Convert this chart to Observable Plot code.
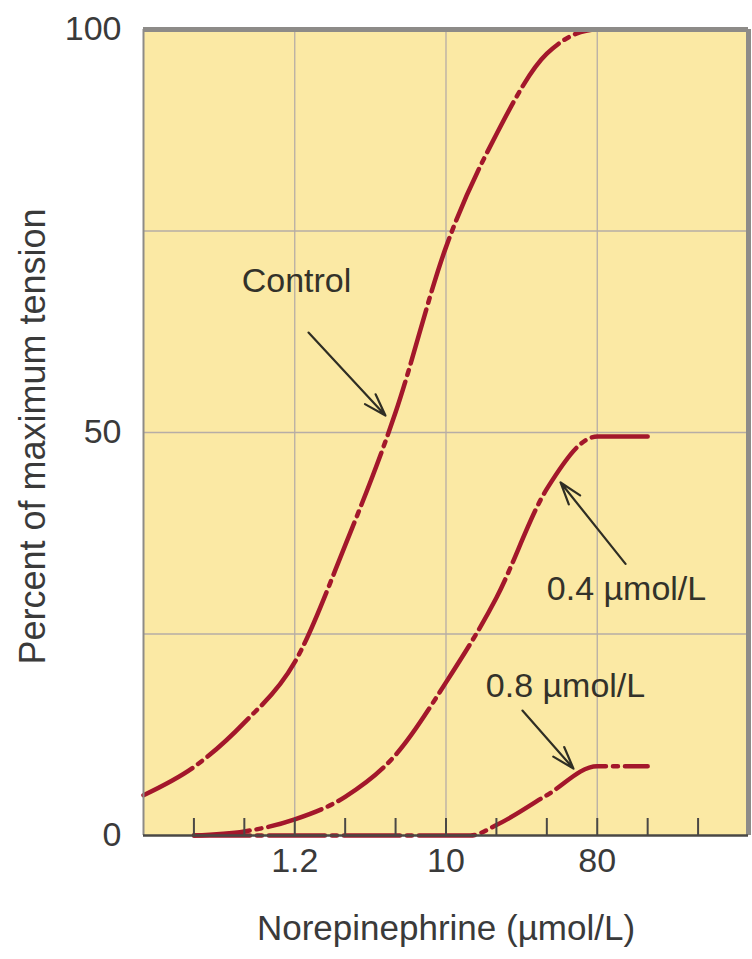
<!DOCTYPE html>
<html>
<head>
<meta charset="utf-8">
<script src="https://cdn.jsdelivr.net/npm/d3@7"></script>
<script src="https://cdn.jsdelivr.net/npm/@observablehq/plot@0.6"></script>
<style>
  html, body { margin: 0; padding: 0; background: #ffffff; }
  #chart svg { display: block; }
</style>
</head>
<body>
<div id="chart"></div>
<script>
// ---- data ----
const concentrations = [0.15625, 0.3125, 0.625, 1.25, 2.5, 5, 10, 20, 40, 80, 160];
const controlValues  = [5, 8.5, 14, 21.5, 36, 52.5, 73, 87, 97, 100, 100];
const conc04 = [0.3125, 0.625, 1.25, 2.5, 5, 10, 20, 40, 80, 160];
const values04 = [0, 0.5, 2, 4.8, 10, 19, 29.5, 43, 49.5, 49.5];
const conc08 = [0.3125, 0.625, 1.25, 2.5, 5, 10, 14, 20, 40, 80, 160];
const values08 = [0, 0, 0, 0, 0, 0, 0, 1.3, 5, 8.6, 8.6];

const xDomain = [0.15625, 640];
const xTickValues = [0.3125, 0.625, 1.25, 2.5, 5, 10, 20, 40, 80, 160, 320];
const xLabelValues = [1.25, 10, 80];
const xLabelTexts = ["1.2", "10", "80"];
const yTickValues = [0, 50, 100];
const yGridValues = [25, 50, 75];

const annotationTexts = ["Control", "0.4 µmol/L", "0.8 µmol/L"];
const annotationX = [1.28, 119.6, 51.7];
const annotationY = [68.8, 30.6, 18.5];
const arrowX1 = [1.51, 118, 28.6];
const arrowY1 = [62.4, 33.7, 15.5];
const arrowX2 = [4.35, 48.3, 57.7];
const arrowY2 = [52.1, 43.8, 8.3];

const xTitle = "Norepinephrine (µmol/L)";
const yTitle = "Percent of maximum tension";

// ---- build tables ----
const rows = [];
concentrations.forEach((c, i) => rows.push({series: "Control", x: c, y: controlValues[i]}));
conc04.forEach((c, i) => rows.push({series: "0.4", x: c, y: values04[i]}));
conc08.forEach((c, i) => rows.push({series: "0.8", x: c, y: values08[i]}));

const notes = annotationTexts.map((t, i) => ({t, x: annotationX[i], y: annotationY[i]}));
const arrows = annotationTexts.map((t, i) => ({x1: arrowX1[i], y1: arrowY1[i], x2: arrowX2[i], y2: arrowY2[i]}));
const xLabels = xLabelValues.map((v, i) => ({x: v, t: xLabelTexts[i]}));

const font = "'Liberation Sans', Arial, Helvetica, sans-serif";
const bg = "#fbe9a4";
const grid = "#b6ada6";
const red = "#a3172b";
const border = "#8d8b88";
const ink = "#33322a";

const chart = Plot.plot({
  width: 752,
  height: 959,
  marginLeft: 143,
  marginRight: 4,
  marginTop: 29,
  marginBottom: 124,
  x: {type: "log", domain: xDomain},
  y: {domain: [0, 100]},
  style: {fontFamily: font, fontSize: "34px", background: "#ffffff", color: ink},
  marks: [
    Plot.frame({fill: bg, stroke: "none"}),
    Plot.gridX(xLabelValues, {stroke: grid, strokeOpacity: 1, strokeWidth: 1.3}),
    Plot.gridY(yGridValues, {stroke: grid, strokeOpacity: 1, strokeWidth: 1.3}),
    Plot.line(rows, {
      x: "x", y: "y", z: "series",
      stroke: red, strokeWidth: 4.5,
      strokeDasharray: "56,7,5,7",
      curve: "monotone-x"
    }),
    Plot.ruleX([xDomain[0]], {stroke: border, strokeWidth: 2}),
    Plot.ruleX([xDomain[1]], {stroke: border, strokeWidth: 5}),
    Plot.ruleY([100], {stroke: border, strokeWidth: 5}),
    Plot.ruleY([0], {stroke: "#4a4845", strokeWidth: 2.5}),
    Plot.axisX(xTickValues, {tickSize: 17, dy: -17, tickFormat: () => "", stroke: "#4a4845", strokeWidth: 2, label: null}),
    Plot.text(xLabels, {x: "x", text: "t", frameAnchor: "bottom", lineAnchor: "middle", dy: 26, fontSize: 34, fill: "#3a3a3a"}),
    Plot.axisY(yTickValues, {tickSize: 0, tickPadding: 22, label: null, fontSize: 34, fill: "#3a3a3a"}),
    Plot.text([xTitle], {frameAnchor: "bottom", lineAnchor: "middle", dy: 93, fontSize: 35, fill: "#3a3a3a"}),
    Plot.text([yTitle], {frameAnchor: "left", textAnchor: "middle", dx: -110, dy: 4, rotate: -90, fontSize: 36, fill: "#3a3a3a"}),
    Plot.arrow(arrows, {
      x1: "x1", y1: "y1", x2: "x2", y2: "y2",
      stroke: "#2f2e24", strokeWidth: 2.2, headLength: 16, headAngle: 36
    }),
    Plot.text(notes, {x: "x", y: "y", text: "t", fontSize: 34, fill: ink})
  ]
});

document.getElementById("chart").appendChild(chart);
</script>
</body>
</html>
